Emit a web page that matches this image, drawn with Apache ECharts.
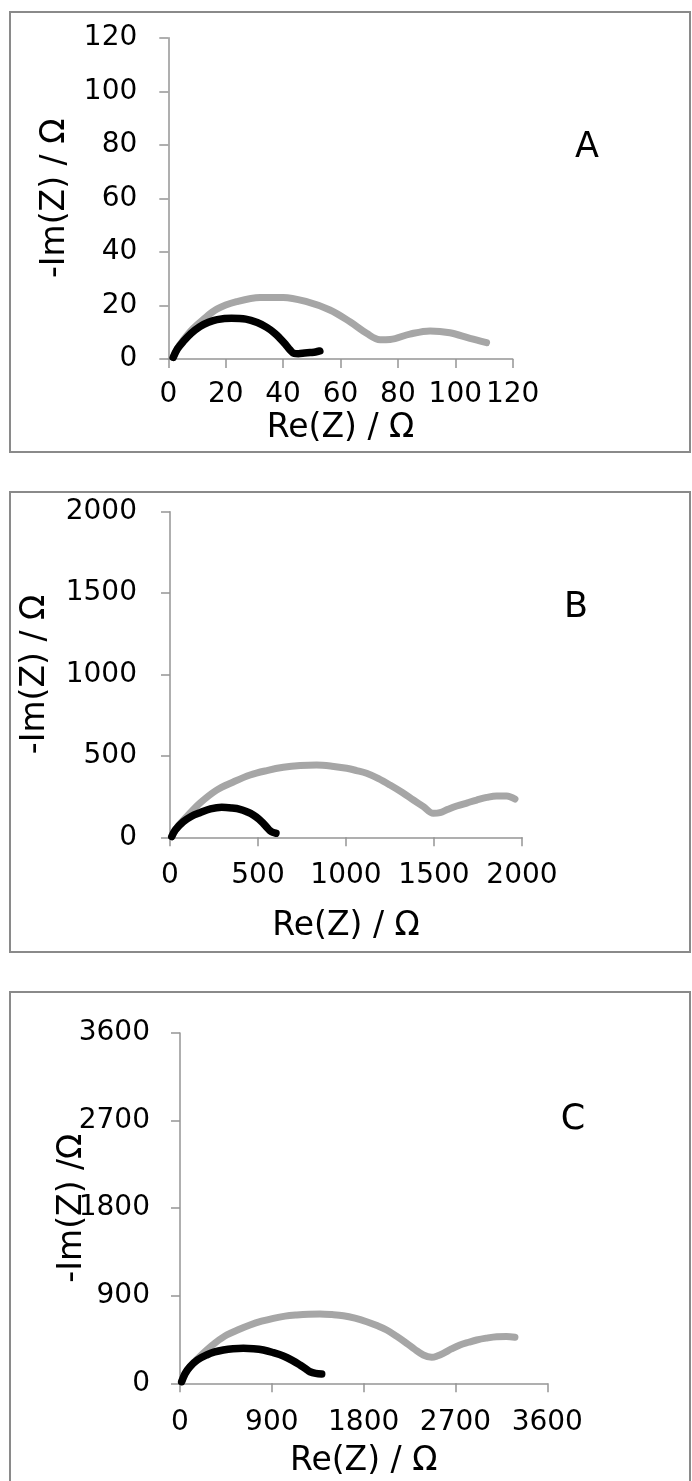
<!DOCTYPE html>
<html>
<head>
<meta charset="utf-8">
<script src="https://cdn.jsdelivr.net/npm/echarts@6/dist/echarts.min.js"></script>
<style>
  html, body { margin: 0; padding: 0; background: #fff; }
  #chart { width: 692px; height: 1481px; }
</style>
</head>
<body>
<div id="chart"></div>
<script>
// Nyquist plots: Re(Z) vs -Im(Z) for two electrodes in three conditions (A, B, C)

// Panel A
const aGrayRe  = [1.7, 3.2, 5.2, 8.5, 12, 16.9, 23.8, 32, 40.1, 48.2, 56.3, 63.3, 69.1, 73.8, 77.3, 84.2, 91.2, 98.1, 105.1, 110.9];
const aGrayIm  = [0.6, 3.9, 7.0, 11.2, 14.6, 18.6, 21.4, 23.0, 23.0, 21.4, 18.3, 13.9, 9.6, 7.2, 7.3, 9.3, 10.5, 9.8, 7.7, 6.1];
const aBlackRe = [1.7, 3.2, 5.2, 8, 11, 14, 17, 22, 27, 31, 34.3, 37, 38.9, 40.8, 42.4, 43.8, 45.3, 47.5, 49.4, 51.3, 52.8];
const aBlackIm = [0.6, 3.8, 6.5, 9.6, 12.1, 13.7, 14.7, 15.2, 14.9, 13.6, 11.8, 9.7, 7.7, 5.5, 3.4, 2.1, 2.0, 2.2, 2.4, 2.6, 3.0];

// Panel B
const bGrayRe  = [10, 40, 95, 170, 265, 360, 455, 550, 644, 740, 833, 920, 1004, 1060, 1117, 1185, 1250, 1320, 1383, 1440, 1496, 1534, 1580, 1629, 1690, 1743, 1800, 1856, 1913, 1960];
const bGrayIm  = [4, 60, 127, 210, 290, 340, 383, 410, 430, 441, 444, 437, 424, 410, 393, 360, 321, 275, 229, 188, 147, 151, 172, 192, 212, 229, 245, 254, 254, 235];
const bBlackRe = [10, 30, 76, 120, 170, 230, 294, 350, 398, 440, 473, 505, 530, 550, 568, 585, 602];
const bBlackIm = [4, 45, 96, 128, 151, 174, 184, 180, 172, 155, 137, 112, 86, 62, 41, 30, 25];

// Panel C
const cGrayRe  = [16, 50, 98, 170, 261, 350, 457, 570, 686, 800, 915, 1030, 1143, 1260, 1372, 1490, 1601, 1715, 1830, 1930, 2026, 2125, 2222, 2300, 2385, 2467, 2520, 2581, 2660, 2744, 2830, 2908, 3000, 3104, 3200, 3283];
const cGrayIm  = [16, 100, 171, 250, 342, 420, 496, 550, 599, 638, 668, 690, 702, 710, 712, 706, 695, 670, 633, 593, 548, 482, 411, 350, 291, 267, 280, 308, 353, 394, 422, 445, 464, 479, 481, 473];
const cBlackRe = [16, 50, 98, 170, 261, 340, 425, 520, 621, 720, 817, 915, 1013, 1100, 1176, 1230, 1274, 1330, 1389];
const cBlackIm = [16, 100, 171, 240, 291, 322, 342, 355, 360, 355, 342, 315, 281, 236, 188, 150, 119, 102, 96];

// Axis ranges and tick steps
const axisMax   = [120, 2000, 3600];
const axisStep  = [20, 500, 900];
const panelTags = ['A', 'B', 'C'];
const xTitle = 'Re(Z) / Ω';
const yTitles = ['-Im(Z) / Ω', '-Im(Z) / Ω', '-Im(Z) /Ω'];

const FONT = '"DejaVu Sans", "Liberation Sans", Arial, sans-serif';
const AXIS_GRAY = '#959595';

const zip = (xs, ys) => xs.map((x, i) => [x, ys[i]]);

// Layout of each panel
const layout = [
  { grid: { left: 168.3, top: 37.7, width: 344.4, height: 321.3 }, xLabelMargin: 22, yLabelMargin: 31, xNameGap: 53, yNameGap: 96,
    box: [10, 12, 680, 440], tag: [587, 148] },
  { grid: { left: 170, top: 511.7, width: 352, height: 325.6 }, xLabelMargin: 24, yLabelMargin: 33, xNameGap: 73, yNameGap: 118,
    box: [10, 492, 680, 460], tag: [576, 608] },
  { grid: { left: 180, top: 1033, width: 367.3, height: 350.3 }, xLabelMargin: 25, yLabelMargin: 30, xNameGap: 62, yNameGap: 91,
    box: [10, 992, 680, 520], tag: [573, 1120] }
];

const seriesData = [
  [zip(aGrayRe, aGrayIm), zip(aBlackRe, aBlackIm)],
  [zip(bGrayRe, bGrayIm), zip(bBlackRe, bBlackIm)],
  [zip(cGrayRe, cGrayIm), zip(cBlackRe, cBlackIm)]
];

const plainNumber = v => String(v);

function axisCommon(i) {
  return {
    type: 'value',
    min: 0,
    max: axisMax[i],
    interval: axisStep[i],
    gridIndex: i,
    splitLine: { show: false },
    axisLine: { show: true, onZero: false, lineStyle: { color: AXIS_GRAY, width: 1.5 } },
    axisTick: { show: true, inside: false, length: 9, lineStyle: { color: AXIS_GRAY, width: 1.5 } },
    nameLocation: 'middle',
    nameMoveOverlap: false,
    nameTextStyle: { color: '#000', fontSize: 33, fontFamily: FONT }
  };
}

function labelStyle(margin) {
  return { color: '#000', fontSize: 28, fontFamily: FONT, margin: margin, formatter: plainNumber,
           showMinLabel: true, showMaxLabel: true, hideOverlap: false };
}

const xAxes = layout.map((p, i) => Object.assign(axisCommon(i), {
  name: xTitle,
  nameGap: p.xNameGap,
  axisLabel: labelStyle(p.xLabelMargin)
}));

const yAxes = layout.map((p, i) => Object.assign(axisCommon(i), {
  name: yTitles[i],
  nameGap: p.yNameGap,
  nameRotate: 90,
  axisLabel: labelStyle(p.yLabelMargin)
}));

const series = [];
seriesData.forEach((pair, i) => {
  const styles = [
    { color: '#a6a6a6', width: 7 },
    { color: '#000000', width: 7.5 }
  ];
  pair.forEach((data, k) => {
    series.push({
      type: 'line',
      xAxisIndex: i,
      yAxisIndex: i,
      data: data,
      showSymbol: false,
      smooth: 0.35,
      silent: true,
      z: 2 + k,
      lineStyle: { color: styles[k].color, width: styles[k].width, cap: 'round', join: 'round' }
    });
  });
});

const graphics = [];
layout.forEach((p, i) => {
  graphics.push({
    type: 'rect',
    z: -10,
    silent: true,
    shape: { x: p.box[0], y: p.box[1], width: p.box[2], height: p.box[3] },
    style: { fill: 'none', stroke: '#8a8a8a', lineWidth: 2 }
  });
  graphics.push({
    type: 'text',
    silent: true,
    x: p.tag[0],
    y: p.tag[1],
    style: { text: panelTags[i], fill: '#000', font: '35px ' + FONT, align: 'center', verticalAlign: 'middle' }
  });
});

const chart = echarts.init(document.getElementById('chart'), null, { renderer: 'canvas', width: 692, height: 1481 });
chart.setOption({
  animation: false,
  backgroundColor: '#ffffff',
  grid: layout.map(p => Object.assign({ containLabel: false }, p.grid)),
  xAxis: xAxes,
  yAxis: yAxes,
  series: series,
  graphic: graphics
});
</script>
</body>
</html>
